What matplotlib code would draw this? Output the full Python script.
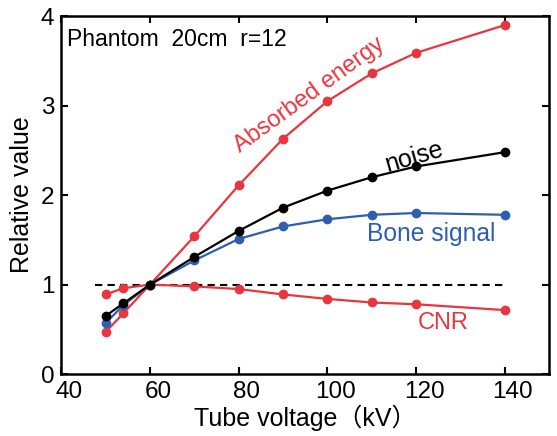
import matplotlib
matplotlib.use("Agg")
from matplotlib import pyplot as plt
import matplotlib.transforms as mtransforms

# tube voltage (kV)
kv = [50, 54, 60, 70, 80, 90, 100, 110, 120, 140]

absorbed = [0.47, 0.68, 1.00, 1.54, 2.11, 2.63, 3.05, 3.36, 3.59, 3.90]
noise = [0.65, 0.79, 1.00, 1.31, 1.60, 1.86, 2.05, 2.20, 2.32, 2.48]
bone = [0.57, 0.77, 1.00, 1.27, 1.51, 1.65, 1.73, 1.78, 1.80, 1.78]
cnr = [0.89, 0.96, 1.00, 0.98, 0.95, 0.89, 0.84, 0.80, 0.78, 0.715]

ref_x = [47.5, 140]
ref_y = [1, 1]

xticks = [40, 60, 80, 100, 120, 140]
yticks = [0, 1, 2, 3, 4]

RED = '#e8363f'
BLUE = '#2e5fae'

plt.rcParams['font.family'] = ['Liberation Sans', 'Noto Sans CJK JP', 'DejaVu Sans']

fig = plt.figure(figsize=(5.57, 4.36), dpi=100)
ax = fig.add_axes([0.11, 0.142, 0.876, 0.821])

ax.plot(ref_x, ref_y, color='black', linestyle=(0, (3.5, 2.5)), linewidth=1.5, zorder=1)
ax.plot(kv, absorbed, color=RED, marker='o', markersize=6, linewidth=1.6)
ax.plot(kv, cnr, color=RED, marker='o', markersize=6, linewidth=1.6)
ax.plot(kv, bone, color=BLUE, marker='o', markersize=6, linewidth=1.6)
ax.plot(kv, noise, color='black', marker='o', markersize=6, linewidth=1.6)

ax.set_xlim(40, 150)
ax.set_ylim(0, 4)
ax.set_xticks(xticks)
ax.set_yticks(yticks)
ax.tick_params(direction='in', length=5, width=1.5, top=True, right=True,
               labelsize=17.5, pad=5)
ax.tick_params(axis='x', pad=5)
for s in ax.spines.values():
    s.set_linewidth(1.8)

# the x labels in the original sit a little right of their ticks
shift = mtransforms.ScaledTranslation(8 / 100, 0, fig.dpi_scale_trans)
for lab in ax.get_xticklabels():
    lab.set_transform(lab.get_transform() + shift)

ax.set_xlabel('Tube voltage（kV）', fontsize=18, labelpad=1)
ax.set_ylabel('Relative value', fontsize=18, labelpad=5)

ax.text(0.012, 0.935, 'Phantom  20cm  r=12', transform=ax.transAxes,
        fontsize=16.5, ha='left', va='center')
ax.text(96, 3.12, 'Absorbed energy', color=RED, fontsize=17,
        rotation=36, ha='center', va='center')
ax.text(119.5, 2.42, 'noise', color='black', fontsize=18,
        rotation=16, ha='center', va='center')
ax.text(123.5, 1.57, 'Bone signal', color=BLUE, fontsize=17.7,
        ha='center', va='center')
ax.text(126, 0.57, 'CNR', color=RED, fontsize=17,
        ha='center', va='center')

fig.savefig('out.png', dpi=100)
